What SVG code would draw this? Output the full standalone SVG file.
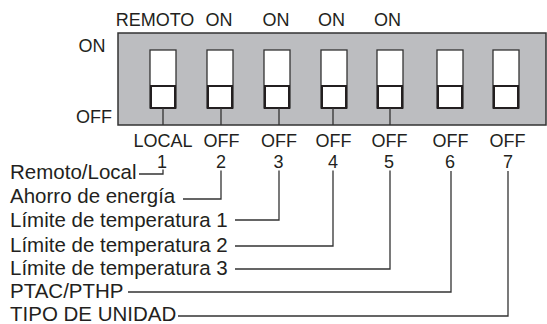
<svg xmlns="http://www.w3.org/2000/svg" width="547" height="324" viewBox="0 0 547 324">
<style>
text{font-family:"Liberation Sans",Arial,sans-serif;fill:#231f20}
.s{font-size:18px;text-anchor:middle}
.l{font-size:20.5px}
.sw{fill:#fff;stroke:#333;stroke-width:1.3}
.sl{fill:#fff;stroke:#231f20;stroke-width:2}
.ln{fill:none;stroke:#333;stroke-width:1.3}
</style>
<rect width="547" height="324" fill="#fff"/>
<g id="panel">
<rect x="118" y="33" width="428" height="92" fill="#bcbdc0" stroke="#333" stroke-width="1.5"/>
<text x="92" y="52" class="s">ON</text>
<text x="94" y="123" class="s">OFF</text>
</g>
<g id="sw1"><rect class="sw" x="150" y="50" width="26" height="58"/><rect class="sl" x="151" y="86" width="24" height="22"/>
<text x="155" y="26" class="s">REMOTO</text><text x="163" y="147" class="s">LOCAL</text><text x="162" y="167.5" class="s">1</text></g>
<g id="sw2"><rect class="sw" x="207" y="50" width="26" height="58"/><rect class="sl" x="208" y="86" width="24" height="22"/>
<text x="219" y="26" class="s">ON</text><text x="221.5" y="147" class="s">OFF</text><text x="221" y="167.5" class="s">2</text></g>
<g id="sw3"><rect class="sw" x="264" y="50" width="26" height="58"/><rect class="sl" x="265" y="86" width="24" height="22"/>
<text x="276" y="26" class="s">ON</text><text x="279" y="147" class="s">OFF</text><text x="278.5" y="167.5" class="s">3</text></g>
<g id="sw4"><rect class="sw" x="321" y="50" width="26" height="58"/><rect class="sl" x="322" y="86" width="24" height="22"/>
<text x="331.5" y="26" class="s">ON</text><text x="333.5" y="147" class="s">OFF</text><text x="333" y="167.5" class="s">4</text></g>
<g id="sw5"><rect class="sw" x="377" y="50" width="26" height="58"/><rect class="sl" x="378" y="86" width="24" height="22"/>
<text x="387.5" y="26" class="s">ON</text><text x="389.5" y="147" class="s">OFF</text><text x="389" y="167.5" class="s">5</text></g>
<g id="sw6"><rect class="sw" x="437" y="50" width="26" height="58"/><rect class="sl" x="438" y="86" width="24" height="22"/>
<text x="450.5" y="147" class="s">OFF</text><text x="450" y="167.5" class="s">6</text></g>
<g id="sw7"><rect class="sw" x="493" y="50" width="26" height="58"/><rect class="sl" x="494" y="86" width="24" height="22"/>
<text x="507.5" y="147" class="s">OFF</text><text x="508" y="167.5" class="s">7</text></g>
<g id="labels">
<text x="10" y="179" class="l">Remoto/Local</text>
<text x="10" y="203" class="l">Ahorro de energía</text>
<text x="10" y="227" class="l">Límite de temperatura 1</text>
<text x="10" y="252" class="l">Límite de temperatura 2</text>
<text x="10" y="275" class="l">Límite de temperatura 3</text>
<text x="10" y="298" class="l">PTAC/PTHP</text>
<text x="10" y="321" class="l">TIPO DE UNIDAD</text>
</g>
<g id="connectors">
<path class="ln" d="M163 108V125M221 108V125M279 108V125M333 108V125M390 108V125"/>
<path class="ln" d="M139 174H163V169.5"/>
<path class="ln" d="M183 199H221V170.5"/>
<path class="ln" d="M235 220H279V170.5"/>
<path class="ln" d="M235 246H333V170.5"/>
<path class="ln" d="M235 269H390V170.5"/>
<path class="ln" d="M128 292H451V171"/>
<path class="ln" d="M178 316H508V171"/>
</g>
</svg>
